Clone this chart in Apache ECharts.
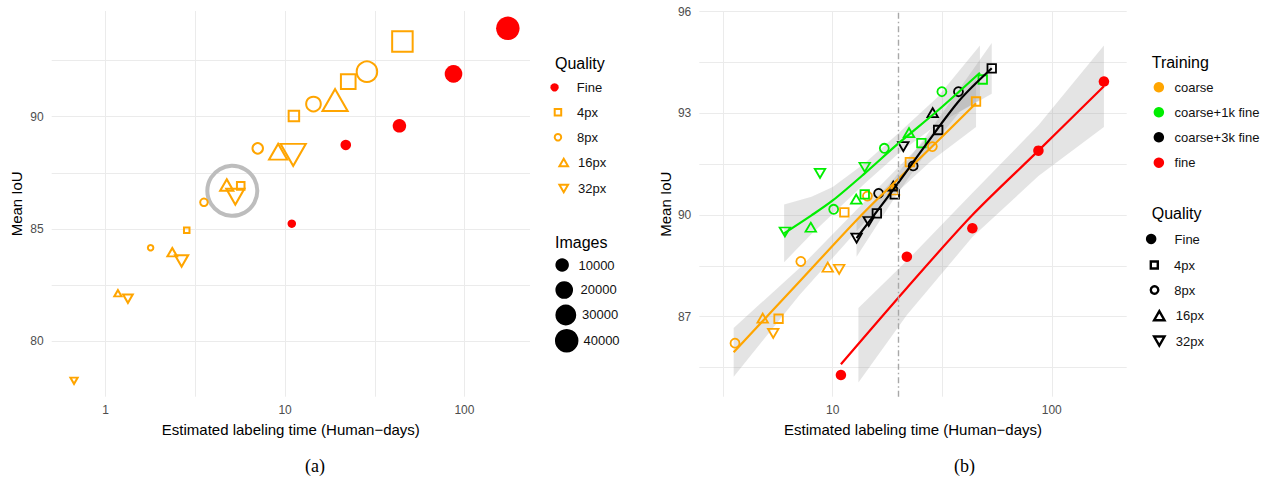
<!DOCTYPE html>
<html>
<head>
<meta charset="utf-8">
<title>Labeling time vs Mean IoU</title>
<script src="https://cdn.jsdelivr.net/npm/echarts@6.0.0/dist/echarts.min.js"></script>
<style>
  html, body { margin: 0; padding: 0; background: #fff; }
  #chart { width: 1268px; height: 479px; }
</style>
</head>
<body>
<div id="chart"></div>
<script>
// ---- (a) coarse vs fine labels, 5 training-set sizes per quality ----
const imageCounts = [2500, 5000, 10000, 20000, 40000];

const timeFine = [10.9, 21.8, 43.4, 86.9, 174.6];
const iouFine = [85.24, 88.74, 89.59, 91.9, 93.93];
const time4px = [2.83, 5.66, 11.2, 22.5, 45.1];
const iou4px = [84.94, 86.92, 90.03, 91.56, 93.34];
const time8px = [1.78, 3.53, 7.04, 14.4, 28.6];
const iou8px = [84.17, 86.19, 88.59, 90.56, 92.0];
const time16px = [1.17, 2.35, 4.73, 9.15, 19.0];
const iou16px = [82.14, 83.97, 86.96, 88.44, 90.74];
const time32px = [0.666, 1.33, 2.65, 5.28, 11.1];
const iou32px = [78.25, 81.9, 83.58, 86.44, 88.3];

const highlightPoint = [5.08, 86.7];
const imageLegendValues = [10000, 20000, 30000, 40000];

// ---- (b) training mixes ----
const coarseTime = [5.66, 11.3, 22.5, 45.1, 3.58, 7.15, 14.4, 28.5, 4.79, 9.49, 19.0, 5.35, 10.7];
const coarseIou = [86.94, 90.08, 91.56, 93.35, 86.22, 88.63, 90.56, 92.02, 86.96, 88.46, 90.74, 86.51, 88.4];
const coarseQuality = ['4px', '4px', '4px', '4px', '8px', '8px', '8px', '8px', '16px', '16px', '16px', '32px', '32px'];

const fine1kTime = [14.0, 25.4, 48.4, 10.1, 17.2, 31.5, 7.94, 12.8, 22.3, 6.05, 8.75, 14.0];
const fine1kIou = [90.61, 92.12, 94.0, 90.17, 91.97, 93.64, 89.64, 90.47, 92.43, 89.5, 91.23, 91.41];
const fine1kQuality = ['4px', '4px', '4px', '8px', '8px', '8px', '16px', '16px', '16px', '32px', '32px', '32px'];

const fine3kTime = [15.9, 19.2, 30.3, 53.2, 16.2, 23.3, 37.5, 18.9, 28.6, 12.85, 14.6, 21.0];
const fine3kIou = [90.05, 90.61, 92.51, 94.33, 90.64, 91.45, 93.64, 90.85, 93.02, 89.32, 89.81, 92.02];
const fine3kQuality = ['4px', '4px', '4px', '4px', '8px', '8px', '8px', '16px', '16px', '32px', '32px', '32px'];

const fineOnlyTime = [10.9, 21.8, 43.4, 86.9, 173];
const fineOnlyIou = [85.28, 88.77, 89.61, 91.9, 93.94];

// smoothed fits and their half band widths
const fitCoarseTime = [3.53, 7.04, 14.1, 28.2, 45.1];
const fitCoarseIou = [85.95, 88.03, 90.12, 92.0, 93.3];
const fitCoarseSe = [0.72, 0.4, 0.3, 0.4, 0.7];
const fit1kTime = [6.0, 8.0, 10.0, 14.0, 20.0, 30.0, 47.0];
const fit1kIou = [89.46, 89.99, 90.43, 91.23, 92.12, 93.07, 94.2];
const fit1kSe = [0.85, 0.55, 0.4, 0.3, 0.3, 0.4, 0.8];
const fit3kTime = [12.85, 18.9, 26.8, 38.1, 53.2];
const fit3kIou = [89.32, 90.75, 92.1, 93.4, 94.33];
const fit3kSe = [0.55, 0.3, 0.25, 0.35, 0.75];
const fitFineTime = [10.9, 21.8, 43.4, 86.9, 173];
const fitFineIou = [85.6, 87.85, 90.0, 91.9, 93.8];
const bandFineTime = [13.1, 21.8, 43.4, 86.9, 173];
const bandFineIou = [86.16, 87.85, 90.0, 91.9, 93.8];
const bandFineSe = [1.1, 0.8, 0.65, 0.75, 1.2];

const cutoffTime = 20;

// ---- styles ----
const FONT = '"Liberation Sans", Arial, sans-serif';
const ORANGE = '#FFA500', RED = '#FF0000', GREEN = '#00EE00', BLACK = '#000000';
const GRID_C = '#ebebeb';
const CLEAR = 'rgba(0,0,0,0)';
const SQ = 'path://M0,0L10,0L10,10L0,10Z';
const TRI = 'path://M5,0L10,8.66L0,8.66Z';
const DTRI = 'path://M0,0L10,0L5,8.66Z';
const shapeOf = { 'Fine': 'circle', '4px': SQ, '8px': 'circle', '16px': TRI, '32px': DTRI };
const rightSize = { 'Fine': 10.5, '4px': [8.5, 8.5], '8px': 9, '16px': [10.5, 9], '32px': [10.5, 9] };

function bubble(n) { return 3.5 + 0.1 * Math.sqrt(n); }
function leftSize(q) {
  return function (val) {
    const d = bubble(val[2]);
    if (q === 'Fine') return d;
    if (q === '16px' || q === '32px') { const w = 1.2 * d - 3; return [w, w * 0.87]; }
    return d - 3;
  };
}
const solid = function (c) { return { color: c, borderWidth: 0, opacity: 1 }; };
const hollow = function (c, w) { return { color: CLEAR, borderColor: c, borderWidth: w, opacity: 1 }; };

const chart = echarts.init(document.getElementById('chart'), null, { renderer: 'svg' });

// 1. axes
function logX(gridIndex, min, max) {
  return {
    type: 'log', logBase: Math.sqrt(10), gridIndex, min, max,
    name: 'Estimated labeling time (Human\u2212days)', nameLocation: 'middle', nameGap: 25,
    nameTextStyle: { fontFamily: FONT, fontSize: 15, color: '#000' },
    axisLine: { show: false }, axisTick: { show: false },
    axisLabel: {
      fontFamily: FONT, fontSize: 12, color: '#4d4d4d', margin: 7,
      showMinLabel: false, showMaxLabel: false,
      formatter: function (v) {
        const e = Math.log10(v);
        return Math.abs(e - Math.round(e)) < 1e-6 ? String(Math.round(v)) : '';
      }
    },
    splitLine: { show: true, showMinLine: false, showMaxLine: false, lineStyle: { color: GRID_C, width: 1 } }
  };
}
function valY(gridIndex, min, max, step, labelStep, nameGap, showMax) {
  return {
    type: 'value', gridIndex, min, max, minInterval: step, maxInterval: step,
    name: 'Mean IoU', nameLocation: 'middle', nameRotate: 90, nameGap,
    nameTextStyle: { fontFamily: FONT, fontSize: 15, color: '#000' },
    axisLine: { show: false }, axisTick: { show: false },
    axisLabel: {
      fontFamily: FONT, fontSize: 12, color: '#4d4d4d', margin: 8,
      formatter: function (v) {
        const k = v / labelStep;
        return Math.abs(k - Math.round(k)) < 1e-6 ? String(Math.round(v)) : '';
      }
    },
    splitLine: { show: true, showMinLine: false, showMaxLine: showMax, lineStyle: { color: GRID_C, width: 1 } }
  };
}

// 2. series
const series = [];

series.push({
  type: 'scatter', name: 'highlight', xAxisIndex: 0, yAxisIndex: 0, silent: true, z: 2,
  data: [highlightPoint], symbol: 'circle', symbolSize: 50,
  itemStyle: hollow('#bdbdbd', 4)
});

const leftSets = [
  ['Fine', timeFine, iouFine], ['4px', time4px, iou4px], ['8px', time8px, iou8px],
  ['16px', time16px, iou16px], ['32px', time32px, iou32px]
];
leftSets.forEach(function (s) {
  const q = s[0];
  series.push({
    type: 'scatter', name: q, xAxisIndex: 0, yAxisIndex: 0, silent: true, z: 3,
    data: s[1].map(function (t, i) { return [t, s[2][i], imageCounts[i]]; }),
    symbol: shapeOf[q], symbolSize: leftSize(q),
    itemStyle: q === 'Fine' ? solid(RED) : hollow(ORANGE, 2)
  });
});

function band(ts, mids, halfs) {
  return {
    type: 'custom', xAxisIndex: 1, yAxisIndex: 1, silent: true, z: 2,
    data: [[ts[0], mids[0]]],
    renderItem: function (params, api) {
      const up = ts.map(function (t, i) { return api.coord([t, mids[i] + halfs[i]]); });
      const lo = ts.map(function (t, i) { return api.coord([t, mids[i] - halfs[i]]); }).reverse();
      return { type: 'polygon', shape: { points: up.concat(lo) }, style: { fill: 'rgba(150,150,150,0.26)' } };
    }
  };
}
series.push(band(fitCoarseTime, fitCoarseIou, fitCoarseSe));
series.push(band(fit1kTime, fit1kIou, fit1kSe));
series.push(band(fit3kTime, fit3kIou, fit3kSe));
series.push(band(bandFineTime, bandFineIou, bandFineSe));

const rightSets = [
  ['coarse', ORANGE, coarseTime, coarseIou, coarseQuality],
  ['coarse+1k fine', GREEN, fine1kTime, fine1kIou, fine1kQuality],
  ['coarse+3k fine', BLACK, fine3kTime, fine3kIou, fine3kQuality],
  ['fine', RED, fineOnlyTime, fineOnlyIou, fineOnlyTime.map(function () { return 'Fine'; })]
];
rightSets.forEach(function (s) {
  series.push({
    type: 'scatter', name: s[0], xAxisIndex: 1, yAxisIndex: 1, silent: true, z: 3,
    itemStyle: { opacity: 1 },
    data: s[2].map(function (t, i) {
      const q = s[4][i];
      return {
        value: [t, s[3][i]], symbol: shapeOf[q], symbolSize: rightSize[q],
        itemStyle: q === 'Fine' ? solid(s[1]) : hollow(s[1], 1.8)
      };
    })
  });
});

const fits = [
  ['fit_coarse', ORANGE, fitCoarseTime, fitCoarseIou],
  ['fit_1k', GREEN, fit1kTime, fit1kIou],
  ['fit_3k', BLACK, fit3kTime, fit3kIou],
  ['fit_fine', RED, fitFineTime, fitFineIou]
];
fits.forEach(function (f) {
  const s = {
    type: 'line', name: f[0], xAxisIndex: 1, yAxisIndex: 1, silent: true, z: 4,
    data: f[2].map(function (t, i) { return [t, f[3][i]]; }),
    smooth: 0.3, showSymbol: false, symbol: 'none',
    lineStyle: { color: f[1], width: 2.2, opacity: 1 }
  };
  if (f[0] === 'fit_fine') {
    s.markLine = {
      silent: true, symbol: 'none', label: { show: false }, animation: false,
      lineStyle: { color: '#a8a8a8', type: [6, 3, 1.5, 3], width: 1.4, opacity: 1 },
      data: [{ xAxis: cutoffTime }]
    };
  }
  series.push(s);
});

// dummy series that only feed legends
const dummyNames = ['rq_Fine', 'rq_4px', 'rq_8px', 'rq_16px', 'rq_32px']
  .concat(imageLegendValues.map(function (v) { return 'img_' + v; }));
dummyNames.forEach(function (n) {
  series.push({ type: 'scatter', name: n, xAxisIndex: 1, yAxisIndex: 1, data: [], itemStyle: solid(BLACK) });
});

// 3. legends (one per row, so every icon keeps its own size)
const legends = [];
function addLegend(name, label, cx, cy, h, tx, icon, style) {
  const w = Math.max(2 * (tx - 5 - cx), h);
  legends.push({
    left: cx - w / 2, top: cy - Math.max(h, 13) / 2, padding: 0,
    itemWidth: w, itemHeight: h, symbolKeepAspect: true, selectedMode: false,
    data: [{ name: name, icon: icon, itemStyle: style }],
    formatter: function () { return label; },
    textStyle: { fontFamily: FONT, fontSize: 13, color: '#111' }
  });
}

addLegend('Fine', 'Fine', 567.7, 87.3, 8.3, 590, 'circle', solid(RED));
addLegend('4px', '4px', 567.7, 112.3, 6.5, 586.7, SQ, hollow(ORANGE, 2));
addLegend('8px', '8px', 567.7, 137.3, 6.5, 586.7, 'circle', hollow(ORANGE, 2));
addLegend('16px', '16px', 567.7, 162.5, 7.5, 582, TRI, hollow(ORANGE, 2));
addLegend('32px', '32px', 567.7, 188.5, 7.5, 582, DTRI, hollow(ORANGE, 2));

const imageRowsY = [265, 290, 315, 340.7];
imageLegendValues.forEach(function (v, i) {
  addLegend('img_' + v, String(v), 566.7, imageRowsY[i], bubble(v), 583, 'circle', solid(BLACK));
});

const trainRowsY = [87.3, 112.3, 137.3, 162.7];
const trainColors = [ORANGE, GREEN, BLACK, RED];
rightSets.forEach(function (s, i) {
  addLegend(s[0], s[0], 1164.3, trainRowsY[i], 10.5, 1180, 'circle', solid(trainColors[i]));
});

addLegend('rq_Fine', 'Fine', 1164.3, 239, 10.5, 1187.7, 'circle', solid(BLACK));
addLegend('rq_4px', '4px', 1164.3, 265, 7, 1184, SQ, hollow(BLACK, 2.4));
addLegend('rq_8px', '8px', 1164.3, 290, 7.5, 1184, 'circle', hollow(BLACK, 2.4));
addLegend('rq_16px', '16px', 1164.3, 315.7, 9, 1180.7, TRI, hollow(BLACK, 2.4));
addLegend('rq_32px', '32px', 1164.3, 341, 9, 1180.7, DTRI, hollow(BLACK, 2.4));

// 4. titles
const headStyle = { fontFamily: FONT, fontSize: 16, fontWeight: 'normal', color: '#000' };
const capStyle = { fontFamily: '"Liberation Serif", "Times New Roman", serif', fontSize: 18, fontWeight: 'normal', color: '#000' };
const titles = [
  { text: 'Quality', left: 555, top: 55, padding: 0, textStyle: headStyle },
  { text: 'Images', left: 555, top: 234, padding: 0, textStyle: headStyle },
  { text: 'Training', left: 1151.7, top: 54.5, padding: 0, textStyle: headStyle },
  { text: 'Quality', left: 1151.7, top: 205.5, padding: 0, textStyle: headStyle },
  { text: '(a)', left: 305, top: 457, padding: 0, textStyle: capStyle },
  { text: '(b)', left: 954, top: 457, padding: 0, textStyle: capStyle }
];

const option = {
  animation: false,
  textStyle: { fontFamily: FONT },
  title: titles,
  legend: legends,
  grid: [
    { left: 51.7, top: 11, width: 478.3, height: 385.7, outerBoundsMode: 'none' },
    { left: 699.3, top: 11.7, width: 427.4, height: 385, outerBoundsMode: 'none' }
  ],
  xAxis: [logX(0, 0.5, 232), logX(1, 2.46, 219.8)],
  yAxis: [valY(0, 77.54, 94.7, 2.5, 5, 27.5, false), valY(1, 84.64, 96, 1.5, 3, 26.8, true)],
  series: series
};

option && chart.setOption(option);
</script>
</body>
</html>
